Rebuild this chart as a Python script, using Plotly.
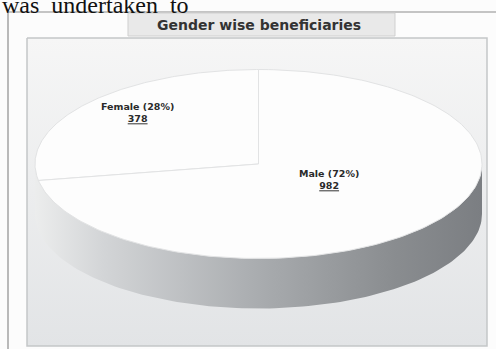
import numpy as np
import plotly.graph_objects as go

# ---- data ----
labels = ["Female", "Male"]
values = [378, 982]
title_text = "Gender wise beneficiaries"
page_text = "was  undertaken  to"

# ---- geometry (pixel coordinates) ----
W, H = 496, 349
cx, cy, rx, ry, depth = 258.5, 164, 223.5, 94.5, 50
start_deg = 90.0  # slices start at 12 o'clock, counter-clockwise

total = sum(values)
fracs = [v / total for v in values]

fig = go.Figure()

def ell(t_deg, dy=0.0):
    t = np.radians(t_deg)
    return cx + rx * np.cos(t), cy - ry * np.sin(t) + dy

# background inner panel (vertical gradient)
fig.add_trace(go.Scatter(
    x=[27, 487, 487, 27, 27], y=[38, 38, 346, 346, 38], mode="lines",
    fill="toself", line=dict(color="#c4c6c8", width=1.5),
    fillgradient=dict(type="vertical",
                      colorscale=[[0, "#e2e4e6"], [1, "#f6f6f6"]]),
    hoverinfo="skip", showlegend=False))

# slices
angles = []
a = start_deg
for f in fracs:
    angles.append((a, a + 360 * f))
    a += 360 * f

side_scale = [[0, "#eceded"], [0.15, "#d3d5d7"], [0.5, "#a9acaf"],
              [0.8, "#8a8d90"], [1, "#7b7e82"]]

# side walls (visible front half: 180..360 deg)
for (a0, a1) in angles:
    for lo, hi in [(a0, a1), (a0 - 360, a1 - 360)]:
        s0, s1 = max(lo, 180), min(hi, 360)
        if s1 <= s0:
            continue
        t = np.linspace(s0, s1, 120)
        xt, yt = ell(t)
        xb, yb = ell(t[::-1], depth)
        fig.add_trace(go.Scatter(
            x=np.concatenate([xt, xb, xt[:1]]),
            y=np.concatenate([yt, yb, yt[:1]]),
            mode="lines", fill="toself", line=dict(width=0),
            fillgradient=dict(type="horizontal", colorscale=side_scale,
                              start=cx - rx, stop=cx + rx),
            hoverinfo="skip", showlegend=False))

# top faces
for (a0, a1) in angles:
    t = np.linspace(a0, a1, 200)
    xt, yt = ell(t)
    fig.add_trace(go.Scatter(
        x=np.concatenate([[cx], xt, [cx]]),
        y=np.concatenate([[cy], yt, [cy]]),
        mode="lines", fill="toself", fillcolor="#fdfdfd",
        line=dict(color="#e2e3e4", width=1),
        hoverinfo="skip", showlegend=False))

# labels
label_pos = [(137, 112), (329, 179)]
annotations = []
for lab, v, f, (lx, ly) in zip(labels, values, fracs, label_pos):
    annotations.append(dict(
        x=lx, y=ly, xref="x", yref="y", showarrow=False,
        text=f"<b>{lab} ({round(f*100)}%)</b><br><b><u>{v}</u></b>",
        font=dict(family="DejaVu Sans", size=9.5, color="#2a2a2a"),
        align="center"))

# title
annotations.append(dict(
    x=259, y=25, xref="x", yref="y", showarrow=False,
    text=f"<b>{title_text}</b>",
    font=dict(family="DejaVu Sans", size=14, color="#333333")))

# page text (cut-off line above the figure)
annotations.append(dict(
    x=0, y=20.5, xref="x", yref="y", xanchor="left", yanchor="bottom",
    showarrow=False, text=page_text,
    font=dict(family="Liberation Serif, Times New Roman", size=24, color="#111111")))

shapes = [
    # outer frame
    dict(type="line", x0=8, y0=12, x1=W, y1=12, xref="x", yref="y",
         line=dict(color="#8c8c8c", width=1.2), layer="below"),
    dict(type="line", x0=8, y0=12, x1=8, y1=H, xref="x", yref="y",
         line=dict(color="#8c8c8c", width=1.2), layer="below"),
    # title box
    dict(type="rect", x0=128, y0=13, x1=395, y1=36, xref="x", yref="y",
         fillcolor="#e9e9e9", line=dict(color="#cfcfcf", width=1), layer="above"),
]

fig.update_layout(
    width=W, height=H, margin=dict(l=0, r=0, t=0, b=0),
    paper_bgcolor="#ffffff", plot_bgcolor="#fcfcfc",
    xaxis=dict(range=[0, W], visible=False, fixedrange=True),
    yaxis=dict(range=[H, 0], visible=False, fixedrange=True),
    annotations=annotations, shapes=shapes, showlegend=False,
)

fig.write_html("out.html", config={"displayModeBar": False},
               post_script="document.body.style.margin='0';")
